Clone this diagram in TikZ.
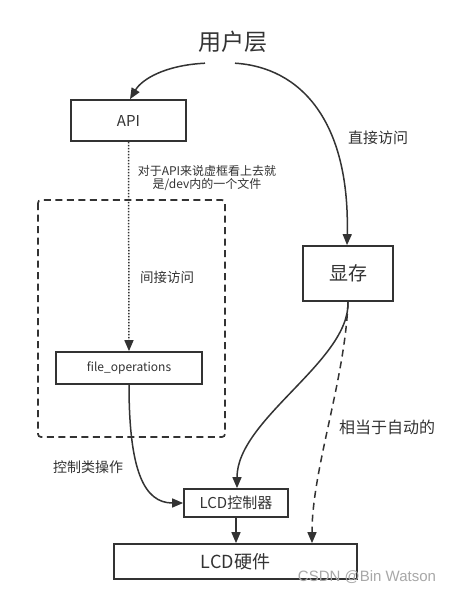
\documentclass[tikz,border=0pt]{standalone}
\usepackage{fontspec}
\setmainfont{Noto Sans CJK SC}
\newfontfamily\wmfont{Liberation Sans}
\usetikzlibrary{arrows.meta}
\definecolor{ln}{HTML}{333333}
\definecolor{wm}{HTML}{A8A8A8}
\newcommand{\fsz}[1]{\fontsize{#1}{#1}\selectfont}
\begin{document}
\begin{tikzpicture}[x=1pt,y=-1pt,
  box/.style={draw=ln, line width=1.7pt, inner sep=0pt, text=ln},
  conn/.style={draw=ln, line width=1.5pt, -{Triangle[length=11pt,width=9pt]}},
  lbl/.style={text=ln, inner sep=0pt}]
\useasboundingbox[fill=white] (0,0) rectangle (451,592);

% container
\draw[ln, line width=1.7pt, dash pattern=on 7pt off 4.5pt, rounded corners=3pt] (38,200) rectangle (225,437);

% nodes
\node[lbl, font=\fsz{23}, minimum height=42pt] (user) at (233,42) {用户层};
\node[box, minimum width=115pt, minimum height=41pt, font=\fsz{15}] (api) at (128.5,120.5) {API};
\node[box, minimum width=90pt, minimum height=55pt, font=\fsz{19}] (disp) at (348,273.5) {显存};
\node[box, minimum width=146pt, minimum height=32pt, font=\fsz{12}] (fops) at (129,368) {file\_operations};
\node[box, minimum width=104pt, minimum height=28pt, font=\fsz{15}] (ctrl) at (236,503) {LCD控制器};
\node[box, minimum width=243pt, minimum height=35pt, font=\fsz{18}] (hw) at (235.5,561.5) {LCD硬件};

% labels
\node[lbl, font=\fsz{15}] (l1) at (378,138) {直接访问};
\node[lbl, font=\fsz{12}, align=center] (l2) at (207,178) {对于API来说虚框看上去就\\[1pt]是/dev内的一个文件};
\node[lbl, font=\fsz{13.5}] (l3) at (167,277) {间接访问};
\node[lbl, font=\fsz{14}] (l4) at (88,467) {控制类操作};
\node[lbl, font=\fsz{16}] (l5) at (387,427) {相当于自动的};
\node[inner sep=0pt, text=wm, font=\wmfont\fsz{15}] (wmk) at (367,577) {CSDN @Bin Watson};

% connectors
\draw[conn] ([xshift=-28pt]user.south) .. controls +(-40,2) and +(12,-20) .. ([xshift=1.5pt]api.north);
\draw[conn] ([xshift=2pt]user.south) .. controls +(65,4) and +(3,-125) .. ([xshift=-1pt]disp.north);
\draw[draw=ln, line width=1.5pt, dash pattern=on 1.5pt off 1.5pt, -{Triangle[length=11pt,width=9pt]}] (api.south) -- (fops.north);
\draw[conn] (fops.south) .. controls +(0,86) and +(-39,0) .. (ctrl.west);
\draw[conn] (disp.south) .. controls +(2,59) and +(0,-69) .. ([xshift=1pt]ctrl.north);
\draw[conn] (ctrl.south) -- (ctrl.south |- hw.north);
\draw[draw=ln, line width=1.5pt, dash pattern=on 7pt off 5pt, -{Triangle[length=11pt,width=9pt]}] (disp.south) .. controls +(-3,79) and +(0,-74) .. ([xshift=76.5pt]hw.north);
\end{tikzpicture}
\end{document}
